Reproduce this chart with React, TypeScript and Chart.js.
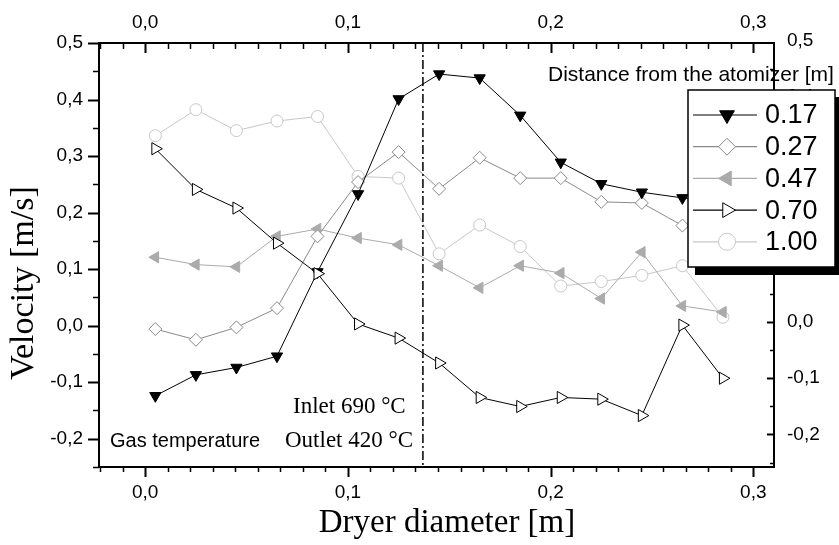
import React, { useEffect, useRef } from 'react';
import { Chart, registerables } from 'chart.js';

Chart.register(...registerables);

// ---- data ----
const distances = [0.005, 0.025, 0.045, 0.065, 0.085, 0.105, 0.125, 0.145, 0.165, 0.185, 0.205, 0.225, 0.245, 0.265, 0.285];
const seriesLabels = ['0.17', '0.27', '0.47', '0.70', '1.00'];
const v017 = [-0.124, -0.087, -0.074, -0.054, 0.095, 0.233, 0.401, 0.445, 0.438, 0.372, 0.289, 0.251, 0.236, 0.226, 0.22];
const v027 = [-0.006, -0.025, -0.003, 0.031, 0.158, 0.254, 0.307, 0.242, 0.297, 0.261, 0.261, 0.219, 0.217, 0.177, 0.16];
const v047 = [0.121, 0.108, 0.104, 0.158, 0.171, 0.155, 0.143, 0.106, 0.067, 0.106, 0.093, 0.048, 0.13, 0.035, 0.024];
const v070 = [0.313, 0.241, 0.208, 0.146, 0.092, 0.003, -0.022, -0.066, -0.127, -0.143, -0.127, -0.13, -0.159, 0.001, -0.093];
const v100 = [0.336, 0.382, 0.345, 0.362, 0.37, 0.264, 0.261, 0.127, 0.178, 0.14, 0.07, 0.078, 0.089, 0.106, 0.015];
const xTickValues = [0, 0.1, 0.2, 0.3];
const yTickValues = [-0.2, -0.1, 0, 0.1, 0.2, 0.3, 0.4, 0.5];
const y2TickValues = [-0.2, -0.1, 0, 0.1, 0.2, 0.3, 0.4, 0.5];
const inletLineX = 0.137;

const X_MIN = -0.0228;
const X_MAX = 0.3102;
const Y_MIN = -0.25;
const Y_MAX = 0.5;
const Y2_MIN = -0.258;
const Y2_MAX = 0.496;

const SANS = "'Liberation Sans', Arial, sans-serif";
const SERIF = "'Liberation Serif', 'Times New Roman', serif";

type Sty = { color: string; fill: string; pointStyle: string; rotation: number; radius: number; order: number };
const styles: Sty[] = [
  { color: '#000000', fill: '#000000', pointStyle: 'triangle', rotation: 180, radius: 6.5, order: 1 },
  { color: '#8a8a8a', fill: '#ffffff', pointStyle: 'rectRot', rotation: 0, radius: 6.5, order: 2 },
  { color: '#ababab', fill: '#ababab', pointStyle: 'triangle', rotation: 270, radius: 6.5, order: 3 },
  { color: '#000000', fill: '#ffffff', pointStyle: 'triangle', rotation: 90, radius: 7, order: 0 },
  { color: '#c8c8c8', fill: '#ffffff', pointStyle: 'circle', rotation: 0, radius: 6, order: 4 },
];
const seriesValues = [v017, v027, v047, v070, v100];

const fmt = (v: any) => Number(v).toFixed(1).replace('.', ',');

function drawMarker(ctx: CanvasRenderingContext2D, s: Sty, x: number, y: number, r: number) {
  ctx.beginPath();
  if (s.pointStyle === 'circle') {
    ctx.arc(x, y, r, 0, Math.PI * 2);
  } else if (s.pointStyle === 'rectRot') {
    ctx.moveTo(x - r, y);
    ctx.lineTo(x, y - r);
    ctx.lineTo(x + r, y);
    ctx.lineTo(x, y + r);
  } else {
    let a = (s.rotation * Math.PI) / 180;
    for (let k = 0; k < 3; k++) {
      const px = x + Math.sin(a) * r;
      const py = y - Math.cos(a) * r;
      if (k === 0) ctx.moveTo(px, py);
      else ctx.lineTo(px, py);
      a += (2 * Math.PI) / 3;
    }
  }
  ctx.closePath();
  ctx.fillStyle = s.fill;
  ctx.fill();
  ctx.strokeStyle = s.color;
  ctx.lineWidth = 1;
  ctx.stroke();
}

const overlayPlugin = {
  id: 'overlay',
  beforeDraw(chart: any) {
    const ctx = chart.ctx;
    ctx.save();
    ctx.fillStyle = '#ffffff';
    ctx.fillRect(0, 0, chart.width, chart.height);
    ctx.restore();
  },
  afterDraw(chart: any) {
    const ctx: CanvasRenderingContext2D = chart.ctx;
    const { left, right, top, bottom } = chart.chartArea;
    const sx = chart.scales.x;
    const sy = chart.scales.y;
    const sy2 = chart.scales.y2;
    ctx.save();

    // dash-dot vertical line
    const lx = sx.getPixelForValue(inletLineX);
    ctx.strokeStyle = '#000';
    ctx.lineWidth = 1.5;
    ctx.setLineDash([9, 3, 2, 3]);
    ctx.beginPath();
    ctx.moveTo(lx, top);
    ctx.lineTo(lx, bottom);
    ctx.stroke();
    ctx.setLineDash([]);

    // frame
    ctx.lineWidth = 2;
    ctx.strokeRect(left, top, right - left, bottom - top);

    const seg = (x1: number, y1: number, x2: number, y2: number, w: number) => {
      ctx.lineWidth = w;
      ctx.beginPath();
      ctx.moveTo(x1, y1);
      ctx.lineTo(x2, y2);
      ctx.stroke();
    };

    // x ticks (bottom outward, top inward), 8 minor ticks between majors
    for (let i = -1; i <= 3; i++) {
      for (let k = 0; k < 9; k++) {
        const v = i * 0.1 + (k * 0.1) / 9;
        if (v < X_MIN - 1e-9 || v > X_MAX + 1e-9) continue;
        const px = Math.round(sx.getPixelForValue(v)) + 0.5;
        const major = k === 0;
        seg(px, bottom, px, bottom + (major ? 10 : 5), major ? 2 : 1.5);
        seg(px, top, px, top + (major ? 10 : 6), major ? 2 : 1.5);
      }
    }
    // left y ticks outward
    for (let j = -5; j <= 10; j++) {
      const v = j * 0.05;
      if (v < Y_MIN - 1e-9 || v > Y_MAX + 1e-9) continue;
      const py = Math.round(sy.getPixelForValue(v)) + 0.5;
      const major = j % 2 === 0;
      seg(left, py, left - (major ? 11 : 6), py, major ? 2 : 1.5);
    }
    // right y ticks inward
    for (let j = -5; j <= 10; j++) {
      const v = j * 0.05;
      if (v < Y2_MIN - 1e-9 || v > Y2_MAX + 1e-9) continue;
      const py = Math.round(sy2.getPixelForValue(v)) + 0.5;
      const major = j % 2 === 0;
      seg(right, py, right - (major ? 7 : 4), py, major ? 2 : 1.5);
    }

    // annotations
    ctx.fillStyle = '#000';
    ctx.textBaseline = 'middle';
    ctx.textAlign = 'left';
    ctx.font = `23px ${SERIF}`;
    ctx.fillText('Inlet 690 °C', 293, 407);
    ctx.fillText('Outlet 420 °C', 285, 441);
    ctx.font = `20px ${SANS}`;
    ctx.fillText('Gas temperature', 110, 441);

    ctx.font = `21px ${SANS}`;
    ctx.fillText('Distance from the atomizer [m]', 548, 75);

    // axis titles
    ctx.font = `33px ${SERIF}`;
    ctx.textAlign = 'center';
    ctx.fillText('Dryer diameter [m]', 447, 523);
    ctx.font = `34px ${SERIF}`;
    ctx.save();
    ctx.translate(24, 283);
    ctx.rotate(-Math.PI / 2);
    ctx.fillText('Velocity [m/s]', 0, 0);
    ctx.restore();

    // legend
    const lx0 = 688, ly0 = 90, lw = 147, lh = 177;
    ctx.fillStyle = '#000';
    ctx.fillRect(lx0 + 7, ly0 + 7, lw + 2, lh + 1);
    ctx.fillStyle = '#fff';
    ctx.fillRect(lx0, ly0, lw, lh);
    ctx.strokeStyle = '#000';
    ctx.lineWidth = 1.5;
    ctx.strokeRect(lx0, ly0, lw, lh);
    ctx.textAlign = 'left';
    ctx.font = `27px ${SANS}`;
    for (let i = 0; i < seriesLabels.length; i++) {
      const s = styles[i];
      const ey = 115 + i * 31.7;
      ctx.strokeStyle = s.color;
      ctx.lineWidth = 1.2;
      ctx.beginPath();
      ctx.moveTo(693, ey);
      ctx.lineTo(757, ey);
      ctx.stroke();
      drawMarker(ctx, s, 727, ey, 8.5);
      ctx.fillStyle = '#000';
      ctx.fillText(seriesLabels[i], 765, ey + 1);
    }
    ctx.restore();
  },
};

export default function App() {
  const ref = useRef<HTMLCanvasElement | null>(null);
  useEffect(() => {
    if (!ref.current) return;
    const tickFont = { family: SANS, size: 19 };
    const noGrid = { display: false, drawTicks: false, tickLength: 0 };
    const datasets = seriesLabels.map((label, i) => {
      const s = styles[i];
      return {
        label,
        data: distances.map((x, j) => ({ x, y: seriesValues[i][j] })),
        borderColor: s.color,
        backgroundColor: s.fill,
        borderWidth: 1,
        pointStyle: s.pointStyle as any,
        rotation: s.rotation,
        pointRadius: s.radius,
        pointBorderColor: s.color,
        pointBackgroundColor: s.fill,
        pointBorderWidth: 1,
        tension: 0,
        fill: false,
        order: s.order,
        xAxisID: 'x',
        yAxisID: 'y',
      };
    });
    const chart = new Chart(ref.current, {
      type: 'line',
      data: { datasets },
      options: {
        responsive: false,
        animation: false,
        layout: { padding: 0 },
        plugins: { legend: { display: false }, tooltip: { enabled: false } },
        scales: {
          x: {
            type: 'linear',
            position: 'bottom',
            min: X_MIN,
            max: X_MAX,
            grid: noGrid,
            border: { display: false },
            afterBuildTicks: (s: any) => { s.ticks = xTickValues.map((value) => ({ value })); },
            afterFit: (s: any) => { s.height = 78; },
            ticks: { font: tickFont, color: '#000', padding: 14, maxRotation: 0, autoSkip: false, callback: fmt },
          },
          x2: {
            type: 'linear',
            position: 'top',
            min: X_MIN,
            max: X_MAX,
            grid: noGrid,
            border: { display: false },
            afterBuildTicks: (s: any) => { s.ticks = xTickValues.map((value) => ({ value })); },
            afterFit: (s: any) => { s.height = 43; },
            ticks: { font: tickFont, color: '#000', padding: 9, maxRotation: 0, autoSkip: false, callback: fmt },
          },
          y: {
            type: 'linear',
            position: 'left',
            min: Y_MIN,
            max: Y_MAX,
            grid: noGrid,
            border: { display: false },
            afterBuildTicks: (s: any) => { s.ticks = yTickValues.map((value) => ({ value })); },
            afterFit: (s: any) => { s.width = 99; },
            ticks: { font: tickFont, color: '#000', padding: 16, autoSkip: false, callback: fmt },
          },
          y2: {
            type: 'linear',
            position: 'right',
            min: Y2_MIN,
            max: Y2_MAX,
            grid: noGrid,
            border: { display: false },
            afterBuildTicks: (s: any) => { s.ticks = y2TickValues.map((value) => ({ value })); },
            afterFit: (s: any) => { s.width = 65; },
            ticks: { font: tickFont, color: '#000', padding: 13, autoSkip: false, callback: fmt },
          },
        },
      },
      plugins: [overlayPlugin],
    } as any);
    return () => chart.destroy();
  }, []);
  return (
    <div style={{ position: 'absolute', left: 0, top: 0, width: 839, height: 545 }}>
      <canvas ref={ref} width={839} height={545} style={{ width: 839, height: 545, display: 'block' }} />
    </div>
  );
}
